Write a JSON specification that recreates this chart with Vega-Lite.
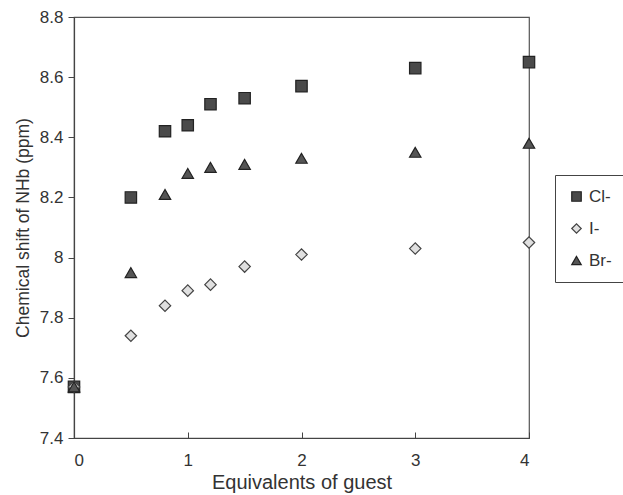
{
  "$schema": "https://vega.github.io/schema/vega-lite/v6.json",
  "width": 455,
  "height": 421,
  "autosize": {"type": "none"},
  "padding": {"left": 74, "top": 17, "right": 94, "bottom": 57},
  "background": "white",
  "config": {
    "font": "Liberation Sans",
    "view": {"stroke": "#555", "strokeWidth": 1.2}
  },
  "data": {
    "values": [
      {"x": 0, "y": 7.57, "ion": "Cl-"},
      {"x": 0.5, "y": 8.20, "ion": "Cl-"},
      {"x": 0.8, "y": 8.42, "ion": "Cl-"},
      {"x": 1, "y": 8.44, "ion": "Cl-"},
      {"x": 1.2, "y": 8.51, "ion": "Cl-"},
      {"x": 1.5, "y": 8.53, "ion": "Cl-"},
      {"x": 2, "y": 8.57, "ion": "Cl-"},
      {"x": 3, "y": 8.63, "ion": "Cl-"},
      {"x": 4, "y": 8.65, "ion": "Cl-"},
      {"x": 0, "y": 7.57, "ion": "I-"},
      {"x": 0.5, "y": 7.74, "ion": "I-"},
      {"x": 0.8, "y": 7.84, "ion": "I-"},
      {"x": 1, "y": 7.89, "ion": "I-"},
      {"x": 1.2, "y": 7.91, "ion": "I-"},
      {"x": 1.5, "y": 7.97, "ion": "I-"},
      {"x": 2, "y": 8.01, "ion": "I-"},
      {"x": 3, "y": 8.03, "ion": "I-"},
      {"x": 4, "y": 8.05, "ion": "I-"},
      {"x": 0, "y": 7.57, "ion": "Br-"},
      {"x": 0.5, "y": 7.95, "ion": "Br-"},
      {"x": 0.8, "y": 8.21, "ion": "Br-"},
      {"x": 1, "y": 8.28, "ion": "Br-"},
      {"x": 1.2, "y": 8.30, "ion": "Br-"},
      {"x": 1.5, "y": 8.31, "ion": "Br-"},
      {"x": 2, "y": 8.33, "ion": "Br-"},
      {"x": 3, "y": 8.35, "ion": "Br-"},
      {"x": 4, "y": 8.38, "ion": "Br-"}
    ]
  },
  "mark": {"type": "point", "filled": true, "strokeWidth": 1.2, "opacity": 1, "clip": false, "size": 130},
  "encoding": {
    "x": {
      "field": "x", "type": "quantitative",
      "scale": {"domain": [0, 4], "nice": false, "zero": false},
      "axis": {"values": [0, 1, 2, 3, 4], "format": "d", "grid": false, "tickSize": -6, "labelPadding": 20, "labelFontSize": 17, "labelFont": "Liberation Sans", "labelColor": "#333", "domainColor": "#444", "tickColor": "#444", "domainWidth": 1.2, "title": "Equivalents of guest", "titleFontSize": 20, "titleFont": "Liberation Sans", "titleFontWeight": "normal", "titleColor": "#333", "titlePadding": 4}
    },
    "y": {
      "field": "y", "type": "quantitative",
      "scale": {"domain": [7.4, 8.8], "nice": false, "zero": false},
      "axis": {"values": [7.4, 7.6, 7.8, 8.0, 8.2, 8.4, 8.6, 8.8], "format": ".1~f", "grid": false, "tickSize": 6, "labelPadding": 5, "labelFontSize": 17, "labelFont": "Liberation Sans", "labelColor": "#333", "domainColor": "#444", "tickColor": "#444", "domainWidth": 1.2, "title": "Chemical shift of NHb (ppm)", "titleFontSize": 17.5, "titleFont": "Liberation Sans", "titleFontWeight": "normal", "titleColor": "#333", "titlePadding": 7}
    },
    "shape": {
      "field": "ion", "type": "nominal",
      "scale": {"domain": ["Cl-", "I-", "Br-"], "range": ["square", "diamond", "triangle-up"]},
      "legend": {
        "title": null, "orient": "none", "legendX": 481, "legendY": 158,
        "strokeColor": "#444", "fillColor": "white", "padding": 13,
        "labelFontSize": 17, "labelColor": "#333", "labelFont": "Liberation Sans",
        "symbolSize": 90, "rowPadding": 14, "symbolStrokeWidth": 1.2
      }
    },
    "fill": {
      "field": "ion", "type": "nominal",
      "scale": {"domain": ["Cl-", "I-", "Br-"], "range": ["#4a4a4a", "#e0e0e0", "#555555"]}
    },
    "stroke": {
      "field": "ion", "type": "nominal",
      "scale": {"domain": ["Cl-", "I-", "Br-"], "range": ["#222222", "#444444", "#222222"]}
    }
  }
}
